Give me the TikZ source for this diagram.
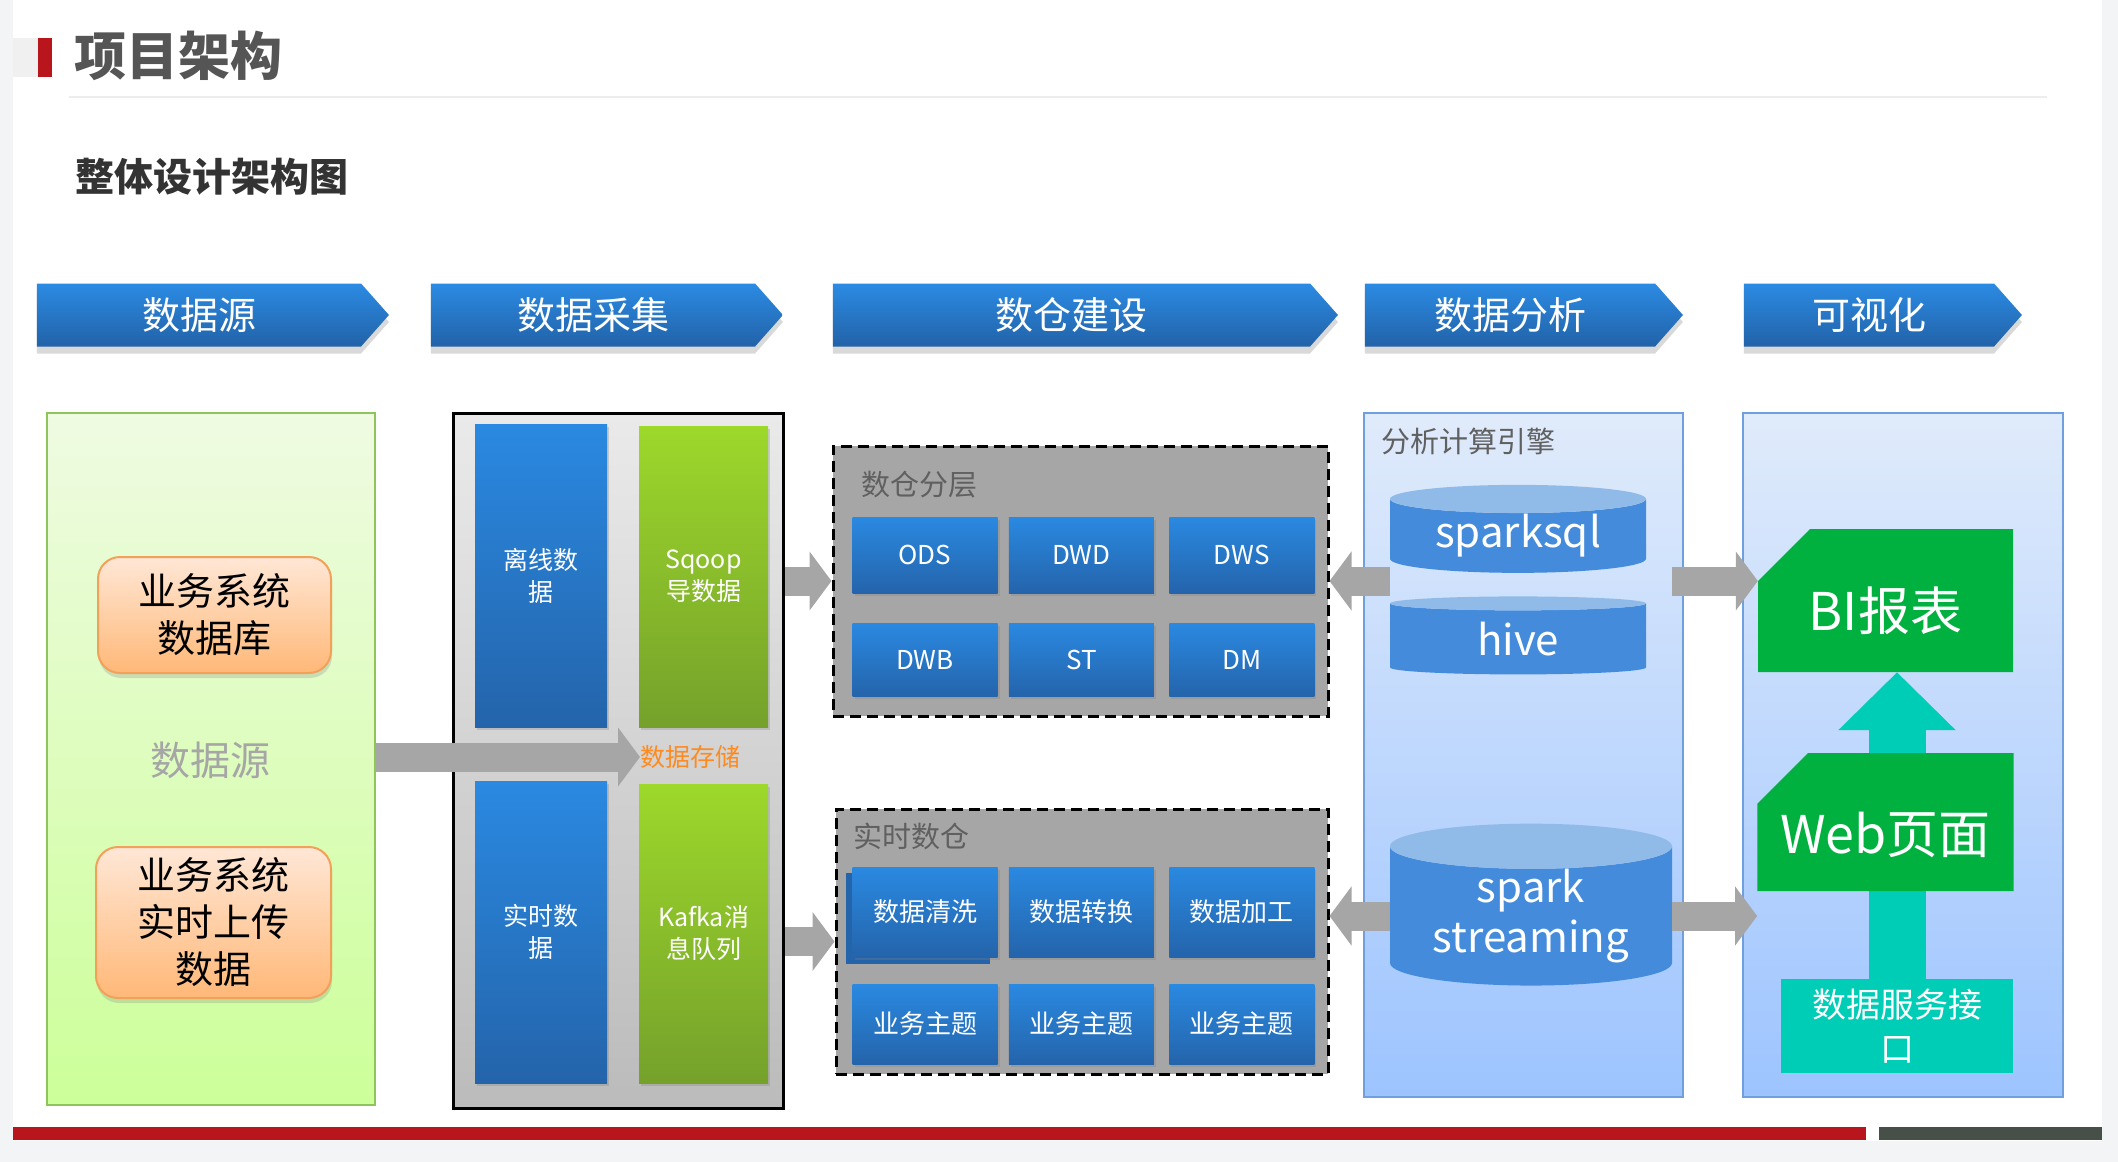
\documentclass[tikz,border=0pt]{standalone}
\usepackage{fontspec}
\setmainfont{Noto Sans CJK SC}
\usetikzlibrary{arrows.meta,positioning,shapes.geometric,shapes.symbols,shapes.misc,shadows}

\definecolor{pagegray}{HTML}{F3F4F6}
\definecolor{titlered}{HTML}{B8161C}
\definecolor{titlegray}{HTML}{555555}
\definecolor{subgray}{HTML}{333333}
\definecolor{bardark}{HTML}{465049}
\definecolor{chevtop}{HTML}{2B8BE3}
\definecolor{chevbot}{HTML}{2262A8}
\definecolor{srctop}{HTML}{EFFBE2}
\definecolor{srcbot}{HTML}{CCFF99}
\definecolor{srcline}{HTML}{8DC55A}
\definecolor{ortop}{HTML}{FFE7D6}
\definecolor{orbot}{HTML}{FFB877}
\definecolor{orline}{HTML}{F2A15A}
\definecolor{coltop}{HTML}{EAEAEA}
\definecolor{colbot}{HTML}{BBBBBB}
\definecolor{tiletop}{HTML}{2A89E1}
\definecolor{tilebot}{HTML}{2464AB}
\definecolor{gretop}{HTML}{9DD82B}
\definecolor{grebot}{HTML}{75A12B}
\definecolor{arrowgray}{HTML}{A6A6A6}
\definecolor{storeorange}{HTML}{FF8A1E}
\definecolor{labgray}{HTML}{606060}
\definecolor{anatop}{HTML}{E0EBFB}
\definecolor{anabot}{HTML}{9DC4FF}
\definecolor{analine}{HTML}{6F9FDC}
\definecolor{cylbody}{HTML}{448BDC}
\definecolor{cyltop}{HTML}{90BAE8}
\definecolor{vizgreen}{HTML}{00B140}
\definecolor{vizteal}{HTML}{00CDB6}

\begin{document}
\begin{tikzpicture}[x=1pt, y=-1pt,
  every node/.style={align=center, inner sep=0pt, text=white},
  stage/.style={signal, signal to=east, signal pointer angle=97, minimum height=63pt, top color=chevtop, bottom color=chevbot, font=\fontsize{38}{44}\selectfont, drop shadow={shadow xshift=0pt, shadow yshift=-7pt, opacity=0.3}},
  panel/.style={rectangle, minimum height=692pt, line width=1.5pt},
  dbbox/.style={rectangle, rounded corners=22pt, draw=orline, line width=2pt, top color=ortop, bottom color=orbot, text=black, font=\fontsize{38}{47}\selectfont, drop shadow={shadow xshift=1pt, shadow yshift=-5pt, opacity=0.25}},
  bluecol/.style={rectangle, minimum width=132pt, top color=tiletop, bottom color=tilebot, font=\fontsize{25}{32}\selectfont, drop shadow={shadow xshift=2pt, shadow yshift=-3pt, opacity=0.3}},
  greencol/.style={bluecol, minimum width=129pt, top color=gretop, bottom color=grebot},
  layerbox/.style={rectangle, draw=black, line width=3pt, dash pattern=on 11pt off 6pt, fill=arrowgray},
  tile/.style={rectangle, minimum width=145pt, top color=tiletop, bottom color=tilebot, font=\fontsize{26}{30}\selectfont, drop shadow={shadow xshift=2pt, shadow yshift=-3pt, opacity=0.3}},
  boxlabel/.style={anchor=west, text=labgray, font=\fontsize{29}{34}\selectfont},
  engine/.style={cylinder, shape border rotate=90, cylinder uses custom fill, cylinder body fill=cylbody, cylinder end fill=cyltop, font=\fontsize{42}{50}\selectfont},
  report/.style={chamfered rectangle, chamfered rectangle corners=north west, chamfered rectangle xsep=51pt, chamfered rectangle ysep=28pt, fill=vizgreen, minimum width=255pt, font=\fontsize{52}{60}\selectfont},
  fatarrow/.style={draw=arrowgray, line width=29pt, -{Triangle[length=22pt, width=58pt]}},
  uparrow/.style={draw=vizteal, line width=57pt, -{Triangle[length=58pt, width=114pt]}}
]
\useasboundingbox (0,0) rectangle (2118,1162);

% --- PAGE FRAME ---
\fill[pagegray] (0,0) rectangle (13,1162);
\fill[pagegray] (2102,0) rectangle (2118,1162);
\fill[pagegray] (0,1141) rectangle (2118,1162);
\fill[titlered] (13,1127) rectangle (1866,1140);
\fill[bardark] (1879,1127) rectangle (2102,1140);

% --- TITLE ---
\fill[black!6] (13,38) rectangle (38,77);
\fill[titlered] (38,38) rectangle (52,77);
\node[anchor=west, text=titlegray, font=\fontsize{52}{60}\selectfont\bfseries] (title) at (74,56) {项目架构};
\draw[black!7, line width=1.5pt] (69,97) -- (2047,97);
\node[anchor=west, text=subgray, font=\fontsize{39}{46}\selectfont\bfseries] (subtitle) at (75,177) {整体设计架构图};

% --- STAGES ---
\node[stage, minimum width=352pt] (srchead) at (199,315) {数据源};
\node[stage, minimum width=352pt] (colhead) at (593,315) {数据采集};
\node[stage, minimum width=505pt] (dwhead) at (1071.5,315) {数仓建设};
\node[stage, minimum width=318pt] (anahead) at (1510,315) {数据分析};
\node[stage, minimum width=278pt] (vizhead) at (1869,315) {可视化};

% --- DATA SOURCE ---
\node[panel, draw=srcline, top color=srctop, bottom color=srcbot, minimum width=328pt] (srcpanel) at (211,759) {};
\node[dbbox, minimum width=233pt, minimum height=116pt] (bizdb) at (214.5,615) {业务系统\\数据库};
\node[text=black!35, font=\fontsize{40}{46}\selectfont] (srclabel) at (210,760) {数据源};
\node[dbbox, minimum width=235pt, minimum height=151pt] (bizrt) at (213.5,922.5) {业务系统\\实时上传\\数据};

% --- COLLECTION ---
\node[panel, draw=black, line width=3pt, top color=coltop, bottom color=colbot, minimum width=330pt, minimum height=695pt] (collect) at (618,760.5) {};
\node[bluecol, minimum height=303pt] (offline) at (541,575.5) {离线数\\据};
\node[greencol, minimum height=301pt] (sqoop) at (703.5,576.5) {Sqoop\\导数据};
\node[bluecol, minimum height=302pt] (realtime) at (541,932) {实时数\\据};
\node[greencol, minimum height=299pt] (kafka) at (703.5,933.5) {Kafka消\\息队列};
\node[anchor=west, text=storeorange, font=\fontsize{25}{30}\selectfont] (store) at (640,757) {数据存储};
\draw[fatarrow] (srcpanel.east |- store.west) -- (store.west);

% --- WAREHOUSE LAYERS ---
\node[layerbox, minimum width=495pt, minimum height=270pt] (layer) at (1080.5,581) {};
\node[boxlabel] (layerlabel) at (861,485) {数仓分层};
\node[tile, minimum height=76pt] (ods) at (925,555) {ODS};
\node[tile, minimum height=76pt, right=11pt of ods] (dwd) {DWD};
\node[tile, minimum height=76pt, right=15pt of dwd] (dws) {DWS};
\node[tile, minimum height=73pt] (dwb) at (925,659.5) {DWB};
\node[tile, minimum height=73pt, right=11pt of dwb] (st) {ST};
\node[tile, minimum height=73pt, right=15pt of st] (dm) {DM};

% --- REALTIME WAREHOUSE ---
\node[layerbox, minimum width=492pt, minimum height=265pt] (rtbox) at (1082,941.5) {};
\node[boxlabel] (rtlabel) at (853,836) {实时数仓};
\fill[tilebot] (846,873) rectangle (990,964);
\node[tile, minimum height=90pt] (clean) at (925,912) {数据清洗};
\node[tile, minimum height=90pt, right=11pt of clean] (convert) {数据转换};
\node[tile, minimum height=90pt, right=15pt of convert] (process) {数据加工};
\node[tile, minimum height=80pt] (topica) at (925,1024) {业务主题};
\node[tile, minimum height=80pt, right=11pt of topica] (topicb) {业务主题};
\node[tile, minimum height=80pt, right=15pt of topicb] (topicc) {业务主题};

\draw[fatarrow] (collect.east |- layer.west) -- (layer.west);
\draw[fatarrow] (collect.east |- rtbox.west) -- (rtbox.west);

% --- ANALYSIS ---
\node[panel, draw=analine, top color=anatop, bottom color=anabot, minimum width=319pt, minimum height=684pt] (anapanel) at (1523.5,755) {};
\node[boxlabel] (analabel) at (1381,441) {分析计算引擎};
\node[engine, minimum width=256pt, minimum height=88pt, aspect=0.17] (sparksql) at (1518,536) {sparksql};
\node[engine, minimum width=256pt, minimum height=78pt, aspect=0.17] (hive) at (1518,639) {hive};
\node[engine, minimum width=282pt, minimum height=148pt, aspect=0.23] (streaming) at (1531,916) {spark\\streaming};
\draw[fatarrow] (sparksql.west |- layer.east) -- (layer.east);
\draw[fatarrow] (streaming.west) -- (streaming.west -| rtbox.east);

% --- VISUALISATION ---
\node[panel, draw=analine, top color=anatop, bottom color=anabot, minimum width=320pt, minimum height=684pt] (vizpanel) at (1903,755) {};
\node[report, minimum height=143pt] (bi) at (1885.5,600.5) {\raisebox{-10pt}[\height][\depth]{BI报表}};
\node[rectangle, fill=vizteal, minimum width=232pt, minimum height=94pt, font=\fontsize{34}{44}\selectfont] (dsvc) at (1897,1026) {数据服务接\\口};
\draw[uparrow] (dsvc.north) -- (dsvc.north |- bi.south);
\node[report, minimum height=138pt] (web) at (1885.5,822) {\raisebox{-13pt}[\height][\depth]{Web页面}};

\draw[fatarrow] ([xshift=-12pt]anapanel.east |- layer.east) -- (bi.west |- layer.east);
\draw[fatarrow] ([xshift=-12pt]anapanel.east |- streaming.west) -- (web.west |- streaming.west);

\end{tikzpicture}
\end{document}
